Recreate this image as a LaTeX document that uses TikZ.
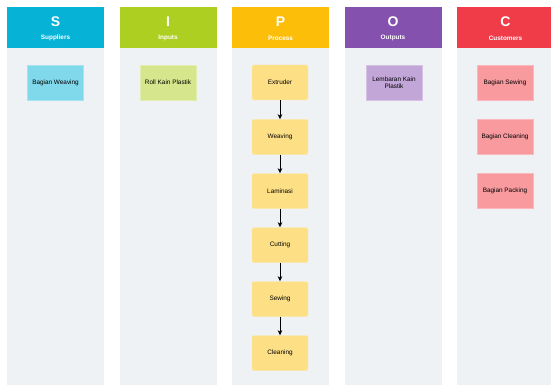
\documentclass[tikz,border=0pt]{standalone}
\usepackage{fontspec}
\setmainfont{Liberation Sans}
\usetikzlibrary{arrows.meta}
\definecolor{colbody}{HTML}{EEF2F5}
\definecolor{hS}{HTML}{06B2D6}
\definecolor{hI}{HTML}{ADCF22}
\definecolor{hP}{HTML}{FDBE0A}
\definecolor{hO}{HTML}{8451AF}
\definecolor{hC}{HTML}{F03B48}
\definecolor{bS}{HTML}{80D9EB}
\definecolor{bI}{HTML}{D5E68C}
\definecolor{bP}{HTML}{FDDF86}
\definecolor{bO}{HTML}{C3A6D8}
\definecolor{bC}{HTML}{F99A9F}
\tikzset{
  colbg/.style={fill=colbody, draw=none, minimum width=97pt, minimum height=337pt, anchor=north, inner sep=0pt},
  headbox/.style={draw=none, minimum width=97pt, minimum height=41pt, anchor=north, inner sep=0pt},
  letter/.style={text=white, font=\fontsize{14}{14}\selectfont\bfseries, inner sep=0pt},
  subtitle/.style={text=white, font=\fontsize{6.4}{7}\selectfont\bfseries, inner sep=0pt},
  item/.style={minimum width=56pt, minimum height=35pt, inner sep=1pt, align=center,
    font=\fontsize{6.4}{7.5}\selectfont, text=black, line width=0.4pt},
  flow/.style={-{Stealth[length=5pt,width=4.5pt,inset=1.3pt]}, line width=0.9pt, black}
}
\begin{document}
\begin{tikzpicture}[x=1pt,y=-1pt]
\useasboundingbox (0,0) rectangle (551,385);
\fill[white] (0,0) rectangle (551,385);
% columns
\foreach \nm/\cx/\hc in {S/55.5/hS, I/168/hI, P/280.5/hP, O/393/hO, C/505.5/hC}{
  \node[colbg] (body\nm) at (\cx,48) {};
  \node[headbox, fill=\hc] (head\nm) at (\cx,7) {};
}
\node[letter] (lS) at (55.5,22) {S};
\node[subtitle] (tS) at (55.5,38) {Suppliers};
\node[letter] (lI) at (168,22) {I};
\node[subtitle] (tI) at (168,38) {Inputs};
\node[letter] (lP) at (280.5,22) {P};
\node[subtitle] (tP) at (280.5,38) {Process};
\node[letter] (lO) at (393,22) {O};
\node[subtitle] (tO) at (393,38) {Outputs};
\node[letter] (lC) at (505.5,22) {C};
\node[subtitle] (tC) at (505.5,38) {Customers};
% items
\node[item, fill=bS, draw=bS!70!white] (weav) at (55.5,82.5) {Bagian Weaving};
\node[item, fill=bI, draw=bI!70!white] (roll) at (168,82.5) {Roll Kain Plastik};
\node[item, fill=bO, draw=bO!70!white] (lemb) at (394,82.5) {Lembaran Kain\\Plastik};
\node[item, fill=bC, draw=bC!70!white] (csew) at (505,82.5) {Bagian Sewing};
\node[item, fill=bC, draw=bC!70!white] (ccle) at (505,136.5) {Bagian Cleaning};
\node[item, fill=bC, draw=bC!70!white] (cpac) at (505,191) {Bagian Packing};
\foreach \nm/\yy/\tx in {p1/82.5/Extruder, p2/137/Weaving, p3/191/Laminasi, p4/245/Cutting, p5/299/Sewing, p6/353/Cleaning}{
  \node[item, fill=bP, draw=bP!70!white, rounded corners=2pt] (\nm) at (280,\yy) {\tx};
}
\draw[flow] (p1) -- (p2);
\draw[flow] (p2) -- (p3);
\draw[flow] (p3) -- (p4);
\draw[flow] (p4) -- (p5);
\draw[flow] (p5) -- (p6);
\end{tikzpicture}
\end{document}
